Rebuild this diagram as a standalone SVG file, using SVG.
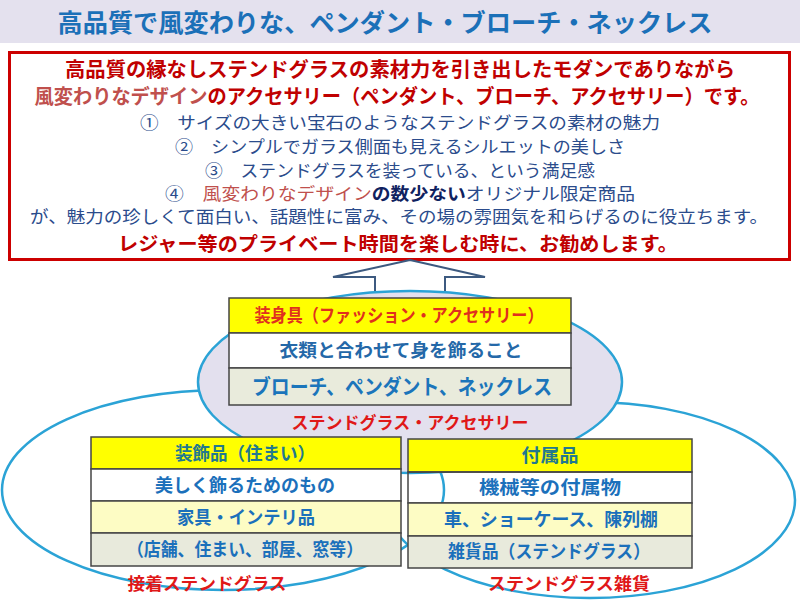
<svg xmlns="http://www.w3.org/2000/svg" width="800" height="600" viewBox="0 0 800 600">
<style>
text{font-family:"Noto Sans CJK JP","Noto Sans",sans-serif;text-anchor:middle}
.b{font-weight:bold}
.dr{fill:#c00000}
.lr{fill:#c0504d}
.bl{fill:#2b4c8c}
.nv{fill:#0f2260;font-weight:bold}
.cell{stroke:#454545;stroke-width:1.5}
.ell{stroke:#2ba3d6;stroke-width:2.5}
.lab{fill:#e01818;font-weight:bold;font-size:17px}
.tb{fill:#1b70bb;font-weight:bold;font-size:18px}
.tl{fill:#22788f;font-weight:bold;font-size:18px}
</style>
<rect x="0" y="0" width="800" height="600" fill="#fff"/>
<g id="title">
<rect x="0" y="0" width="800" height="43" fill="#e4e1ee"/>
<text x="385" y="32" class="b" font-size="25" fill="#1b70b8" textLength="655" lengthAdjust="spacingAndGlyphs">高品質で風変わりな、ペンダント・ブローチ・ネックレス</text>
</g>
<g id="summary">
<rect x="9.5" y="52.5" width="780" height="207" fill="#fff" stroke="#cc0000" stroke-width="3"/>
<text x="400" y="77" class="b dr" font-size="20" textLength="670" lengthAdjust="spacingAndGlyphs">高品質の縁なしステンドグラスの素材力を引き出したモダンでありながら</text>
<text x="397" y="104" class="b dr" font-size="20" textLength="725" lengthAdjust="spacingAndGlyphs"><tspan class="lr">風変わりなデザイン</tspan>のアクセサリー（ペンダント、ブローチ、アクセサリー）です。</text>
<text x="400" y="129" class="bl" font-size="17" textLength="520" lengthAdjust="spacingAndGlyphs">①　サイズの大きい宝石のようなステンドグラスの素材の魅力</text>
<text x="400" y="153" class="bl" font-size="17" textLength="450" lengthAdjust="spacingAndGlyphs">②　シンプルでガラス側面も見えるシルエットの美しさ</text>
<text x="400" y="177" class="bl" font-size="17" textLength="390" lengthAdjust="spacingAndGlyphs">③　ステンドグラスを装っている、という満足感</text>
<text x="400" y="200" class="bl" font-size="17" textLength="470" lengthAdjust="spacingAndGlyphs">④　<tspan class="lr">風変わりなデザイン</tspan><tspan class="nv">の数少ない</tspan>オリジナル限定商品</text>
<text x="399" y="223" class="bl" font-size="17" textLength="738" lengthAdjust="spacingAndGlyphs">が、魅力の珍しくて面白い、話題性に富み、その場の雰囲気を和らげるのに役立ちます。</text>
<text x="398" y="251" class="b dr" font-size="19" textLength="560" lengthAdjust="spacingAndGlyphs">レジャー等のプライベート時間を楽しむ時に、お勧めします。</text>
</g>
<g id="connectors">
<polygon points="410,260 485,277 445,277 445,293 375,293 375,277 333,277" fill="#fff" stroke="#3d5a80" stroke-width="2"/>
</g>
<g id="adhesive-ellipse">
<ellipse cx="223" cy="490" rx="221" ry="100" fill="none" class="ell"/>
</g>
<g id="goods-ellipse">
<ellipse cx="590" cy="500" rx="205" ry="98" fill="none" class="ell"/>
</g>
<g id="accessory-ellipse">
<ellipse cx="410" cy="382" rx="212" ry="91" fill="#e3e0ee" class="ell"/>
<text x="410" y="429" class="lab">ステンドグラス・アクセサリー</text>
</g>
<g id="accessory-table">
<rect x="229" y="298" width="342" height="35" fill="#ffff00" class="cell"/>
<rect x="229" y="333" width="342" height="35" fill="#fff" class="cell"/>
<rect x="229" y="368" width="342" height="37" fill="#e9ebdc" class="cell"/>
<text x="399" y="322" font-size="18" font-weight="bold" fill="#e0301e" textLength="289" lengthAdjust="spacingAndGlyphs">装身具（ファッション・アクセサリー）</text>
<text x="401" y="357" font-size="18" font-weight="bold" fill="#2468a8" textLength="243" lengthAdjust="spacingAndGlyphs">衣類と合わせて身を飾ること</text>
<text x="402" y="394" font-size="21" font-weight="bold" fill="#1b75bb" textLength="300" lengthAdjust="spacingAndGlyphs">ブローチ、ペンダント、ネックレス</text>
</g>
<g id="adhesive-table">
<rect x="91" y="437" width="310" height="32" fill="#ffff00" class="cell"/>
<rect x="91" y="469" width="310" height="32" fill="#fff" class="cell"/>
<rect x="91" y="501" width="310" height="32" fill="#fdfcc4" class="cell"/>
<rect x="91" y="533" width="310" height="33" fill="#e8eadc" class="cell"/>
<text x="245" y="460" class="tl" textLength="140" lengthAdjust="spacingAndGlyphs">装飾品（住まい）</text>
<text x="245" y="492" class="tb" textLength="180" lengthAdjust="spacingAndGlyphs">美しく飾るためのもの</text>
<text x="246" y="524" class="tb" textLength="138" lengthAdjust="spacingAndGlyphs">家具・インテリ品</text>
<text x="245" y="556" class="tb" textLength="236" lengthAdjust="spacingAndGlyphs">（店舗、住まい、部屋、窓等）</text>
<text x="207" y="590" class="lab" font-size="18" textLength="159" lengthAdjust="spacingAndGlyphs">接着ステンドグラス</text>
</g>
<g id="goods-table">
<rect x="408" y="439" width="284" height="33" fill="#ffff00" class="cell"/>
<rect x="408" y="472" width="284" height="31" fill="none" class="cell"/>
<rect x="408" y="503" width="284" height="33" fill="#fdfcc4" class="cell"/>
<rect x="408" y="536" width="284" height="32" fill="#e8eadc" class="cell"/>
<text x="550" y="462" class="tl" textLength="57" lengthAdjust="spacingAndGlyphs">付属品</text>
<text x="550" y="494" class="tb" textLength="142" lengthAdjust="spacingAndGlyphs">機械等の付属物</text>
<text x="551" y="526" class="tb" textLength="214" lengthAdjust="spacingAndGlyphs">車、ショーケース、陳列棚</text>
<text x="549" y="558" class="tb" fill="#1f62a6" textLength="202" lengthAdjust="spacingAndGlyphs">雑貨品（ステンドグラス）</text>
<text x="569" y="590" class="lab" font-size="18" textLength="162" lengthAdjust="spacingAndGlyphs">ステンドグラス雑貨</text>
</g>
</svg>
